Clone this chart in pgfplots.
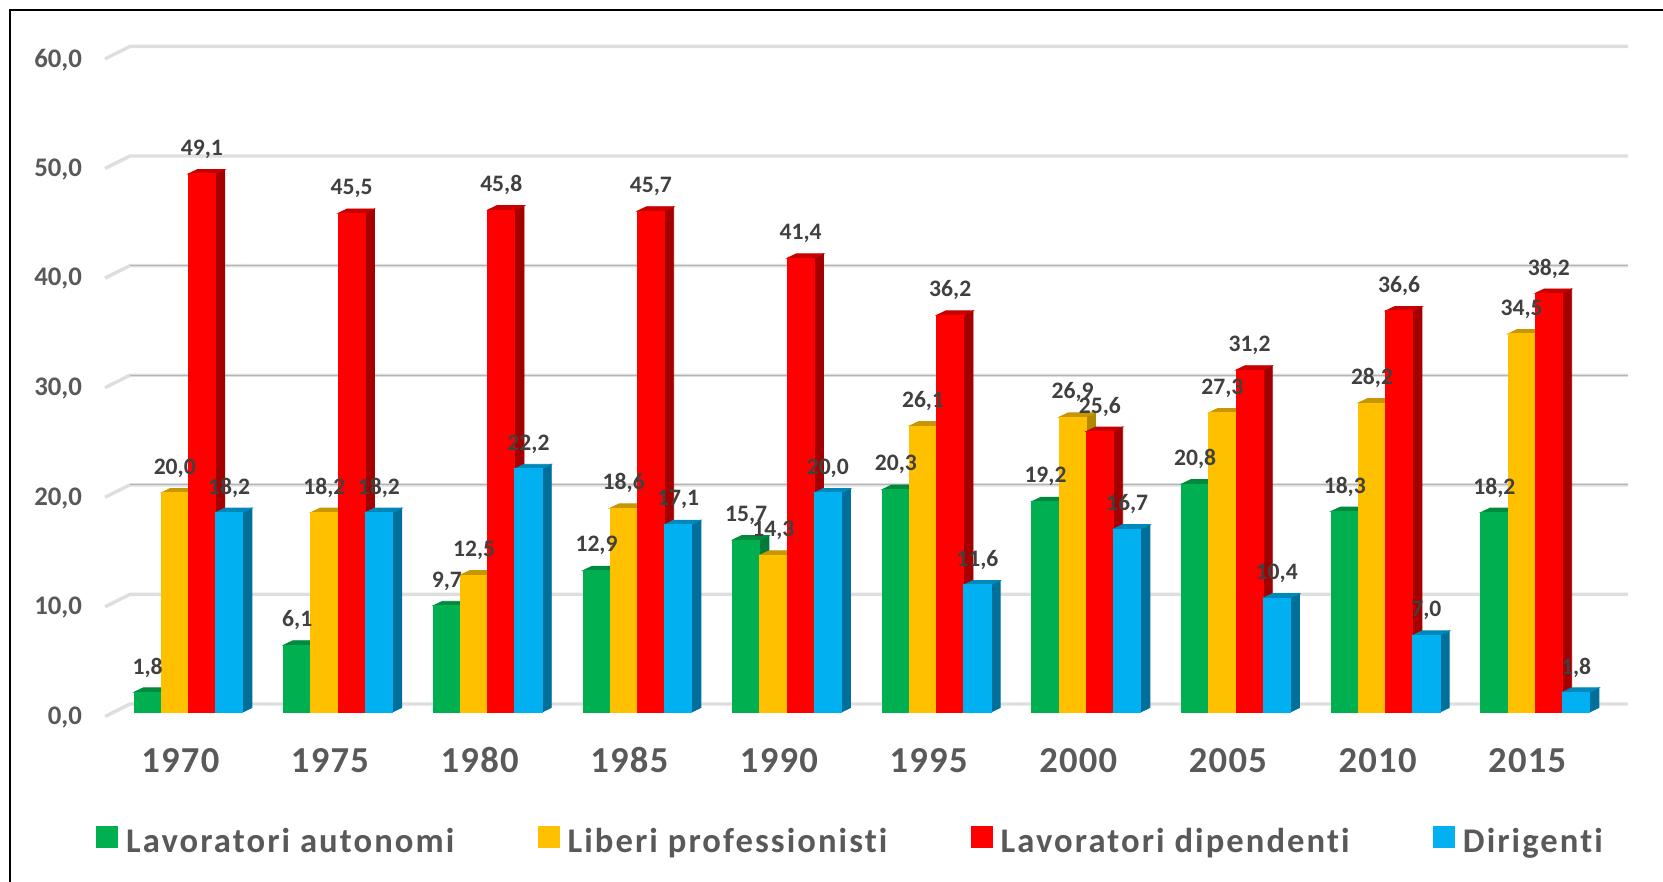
\documentclass[border=0pt]{standalone}
\usepackage{fontspec}
\setmainfont{Carlito}
\newfontfamily\spaced[LetterSpace=3.5]{Carlito}
\newfontfamily\spacedleg[LetterSpace=6,Ligatures=CommonOff]{Carlito}
\usepackage{pgfplots}
\usepackage{pgfplotstable}
\pgfplotsset{compat=1.18}
\definecolor{txt}{HTML}{595959}
\definecolor{lab}{HTML}{404040}
\definecolor{gridc}{HTML}{DEDEDE}
\definecolor{gridd}{HTML}{B4B4B4}
\definecolor{grn}{HTML}{00B050}
\definecolor{grnT}{HTML}{008A3E}
\definecolor{grnS}{HTML}{007A38}
\definecolor{yel}{HTML}{FFC000}
\definecolor{yelT}{HTML}{C79600}
\definecolor{yelS}{HTML}{B38700}
\definecolor{rd}{HTML}{FF0000}
\definecolor{rdT}{HTML}{C80000}
\definecolor{rdS}{HTML}{A50000}
\definecolor{blu}{HTML}{00B0F0}
\definecolor{bluT}{HTML}{0088BA}
\definecolor{bluS}{HTML}{00709A}

\pgfplotstableread{
x green yellow red blue
0 1.8 20.0 49.1 18.2
1 6.1 18.2 45.5 18.2
2 9.7 12.5 45.8 22.2
3 12.9 18.6 45.7 17.1
4 15.7 14.3 41.4 20.0
5 20.3 26.1 36.2 11.6
6 19.2 26.9 25.6 16.7
7 20.8 27.3 31.2 10.4
8 18.3 28.2 36.6 7.0
9 18.2 34.5 38.2 1.8
}\bardata

% column, shift, front, top, side
\newcommand{\barseries}[5]{%
  \addplot[forget plot, only marks, scatter, mark=*, mark size=0pt,
    mark options={draw=none,fill=none},
    visualization depends on={y \as \hh},
    scatter/@pre marker code/.code={\scope
      \fill[#5] ({#2+6.8pt},0pt) -- ++(4.6pt,2.2pt) -- ++(0pt,{-\hh*5.48pt}) -- ++(-4.6pt,-2.2pt) -- cycle;
      \fill[#4] ({#2-6.8pt},0pt) -- ++(4.6pt,2.2pt) -- ++(13.6pt,0pt) -- ++(-4.6pt,-2.2pt) -- cycle;
      \fill[#3] ({#2-6.8pt},0pt) rectangle ({#2+6.8pt},{-\hh*5.48pt});
    },
    scatter/@post marker code/.code={\endscope}]
    table[x=x,y=#1] {\bardata};
}
\newcommand{\barlabels}[2]{%
  \addplot[forget plot, only marks, mark=none,
    nodes near coords,
    every node near coord/.append style={font=\fontsize{11.8}{11.8}\selectfont\bfseries, text=lab,
      anchor=center, yshift=12.4pt, xshift=#2,
      /pgf/number format/.cd, use comma, fixed, fixed zerofill, precision=1, assume math mode=true}]
    table[x=x,y=#1] {\bardata};
}
% back wall line with its slanted stub
\newcommand{\gridline}[3]{%
  \addplot[forget plot, no marks, #3, line width=1.7pt, line join=round]
    coordinates {(-0.557,#1) (-0.39,#2) (9.62,#2)};
}

\begin{document}
\begin{tikzpicture}
\useasboundingbox (-52.5pt,-85pt) rectangle (779pt,356pt);
\begin{axis}[
  at={(0pt,0pt)}, anchor=south west,
  scale only axis, width=761.5pt, height=333pt,
  xmin=-0.557, xmax=9.62, ymin=0, ymax=60.77,
  clip=false,
  axis line style={draw=none},
  major tick length=0pt,
  xtick={0,...,9},
  xticklabels={1970,1975,1980,1985,1990,1995,2000,2005,2010,2015},
  ytick={0,10,...,60},
  xticklabel style={font=\spaced\fontsize{18.3}{18.3}\selectfont\bfseries, text=txt, anchor=base, yshift=-30pt, xshift=-4pt},
  yticklabel style={font=\fontsize{13.4}{13.4}\selectfont\bfseries, text=txt, anchor=east, xshift=-8pt, yshift=-2.7pt,
    /pgf/number format/.cd, use comma, fixed, fixed zerofill, precision=1, assume math mode=true},
  legend columns=4,
  legend style={draw=none, fill=none, at={(-0.0059,-0.195)}, anchor=west, inner sep=0pt,
    font=\spacedleg\fontsize{17.3}{17.3}\selectfont\bfseries, text=txt,
    /tikz/every even column/.append style={column sep=39.8pt}},
  legend cell align=left,
]
\gridline{59.59}{60.73}{gridc}
\gridline{49.59}{50.73}{gridc}
\gridline{39.59}{40.73}{gridc}
\gridline{29.59}{30.73}{gridc}
\gridline{19.59}{20.73}{gridc}
\gridline{9.59}{10.73}{gridc}
\gridline{-0.41}{0.73}{gridc}
\addplot[forget plot, no marks, gridd, line width=0.6pt] coordinates {(-0.39,40.73) (9.62,40.73)};
\addplot[forget plot, no marks, gridd, line width=0.6pt] coordinates {(-0.39,30.73) (9.62,30.73)};
\addplot[forget plot, no marks, gridd, line width=0.6pt] coordinates {(-0.39,20.73) (9.62,20.73)};

\barseries{green}{-20.4pt}{grn}{grnT}{grnS}
\barseries{yellow}{-6.8pt}{yel}{yelT}{yelS}
\barseries{red}{6.8pt}{rd}{rdT}{rdS}
\barseries{blue}{20.4pt}{blu}{bluT}{bluS}

\barlabels{green}{-20.4pt}
\barlabels{yellow}{-6.8pt}
\barlabels{red}{6.8pt}
\barlabels{blue}{20.4pt}

\addlegendimage{legend image code/.code={\fill[grn] (0pt,-3pt) rectangle (10.5pt,7.5pt);}}
\addlegendentry{\hspace{2pt}Lavoratori autonomi}
\addlegendimage{legend image code/.code={\fill[yel] (0pt,-3pt) rectangle (10.5pt,7.5pt);}}
\addlegendentry{\hspace{2pt}Liberi professionisti}
\addlegendimage{legend image code/.code={\fill[rd] (0pt,-3pt) rectangle (10.5pt,7.5pt);}}
\addlegendentry{\hspace{2pt}Lavoratori dipendenti}
\addlegendimage{legend image code/.code={\fill[blu] (0pt,-3pt) rectangle (10.5pt,7.5pt);}}
\addlegendentry{\hspace{2pt}Dirigenti}
\end{axis}
\draw[black, line width=1pt] (-47.5pt,-85pt) -- (-47.5pt,351pt) -- (779pt,351pt);
\end{tikzpicture}
\end{document}
